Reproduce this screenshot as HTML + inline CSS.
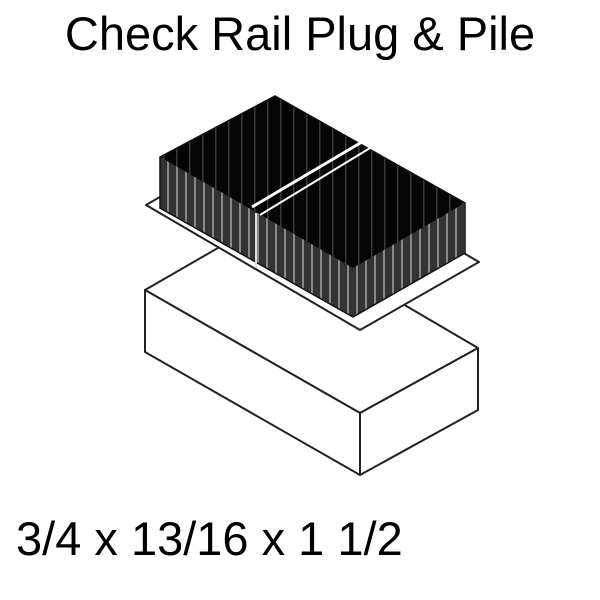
<!DOCTYPE html>
<html><head><style>
html,body{margin:0;padding:0;background:#fff;}
svg{display:block;}
</style></head><body>
<svg width="600" height="600" viewBox="0 0 600 600" xmlns="http://www.w3.org/2000/svg">
<defs>
<pattern id="str" width="9" height="10" patternUnits="userSpaceOnUse">
<rect width="9" height="10" fill="#333"/>
<rect x="5" width="2" height="10" fill="#888"/>
</pattern>
<pattern id="str2" width="13" height="10" patternUnits="userSpaceOnUse">
<rect width="13" height="10" fill="#050505"/>
<rect x="7" width="1.5" height="10" fill="#3a3a3a"/>
</pattern>
</defs>
<text x="300" y="50" font-family="Liberation Sans, sans-serif" font-size="47" text-anchor="middle" fill="#000">Check Rail Plug &amp; Pile</text>
<g fill="#fff" stroke="#222" stroke-width="2" stroke-linejoin="round">
<polygon points="145,290 263,222 478,348 360,413"/>
<polygon points="145,290 360,413 360,475 145,352"/>
<polygon points="360,413 478,348 478,410 360,475"/>
</g>
<polygon points="146,205 264,137 479,262 360,330" fill="#fff" stroke="#222" stroke-width="2" stroke-linejoin="round"/>
<polygon points="160,157 353,265 353,317 160,208" fill="url(#str)"/>
<polygon points="353,265 465,203 465,253 353,317" fill="url(#str)"/>
<polygon points="160,157 275,96 465,203 353,268" fill="url(#str2)"/>
<polygon points="160,157 275,96 465,203 465,253 353,317 160,208" fill="none" stroke="#111" stroke-width="1.5"/>
<line x1="256" y1="213" x2="256" y2="268" stroke="#ddd" stroke-width="2"/>
<line x1="252" y1="207" x2="367" y2="139" stroke="#fff" stroke-width="3"/>
<line x1="260" y1="215" x2="375" y2="145" stroke="#fff" stroke-width="2"/>
<text x="16" y="555" font-family="Liberation Sans, sans-serif" font-size="47" fill="#000">3/4 x 13/16 x 1 1/2</text>
</svg>
</body></html>
